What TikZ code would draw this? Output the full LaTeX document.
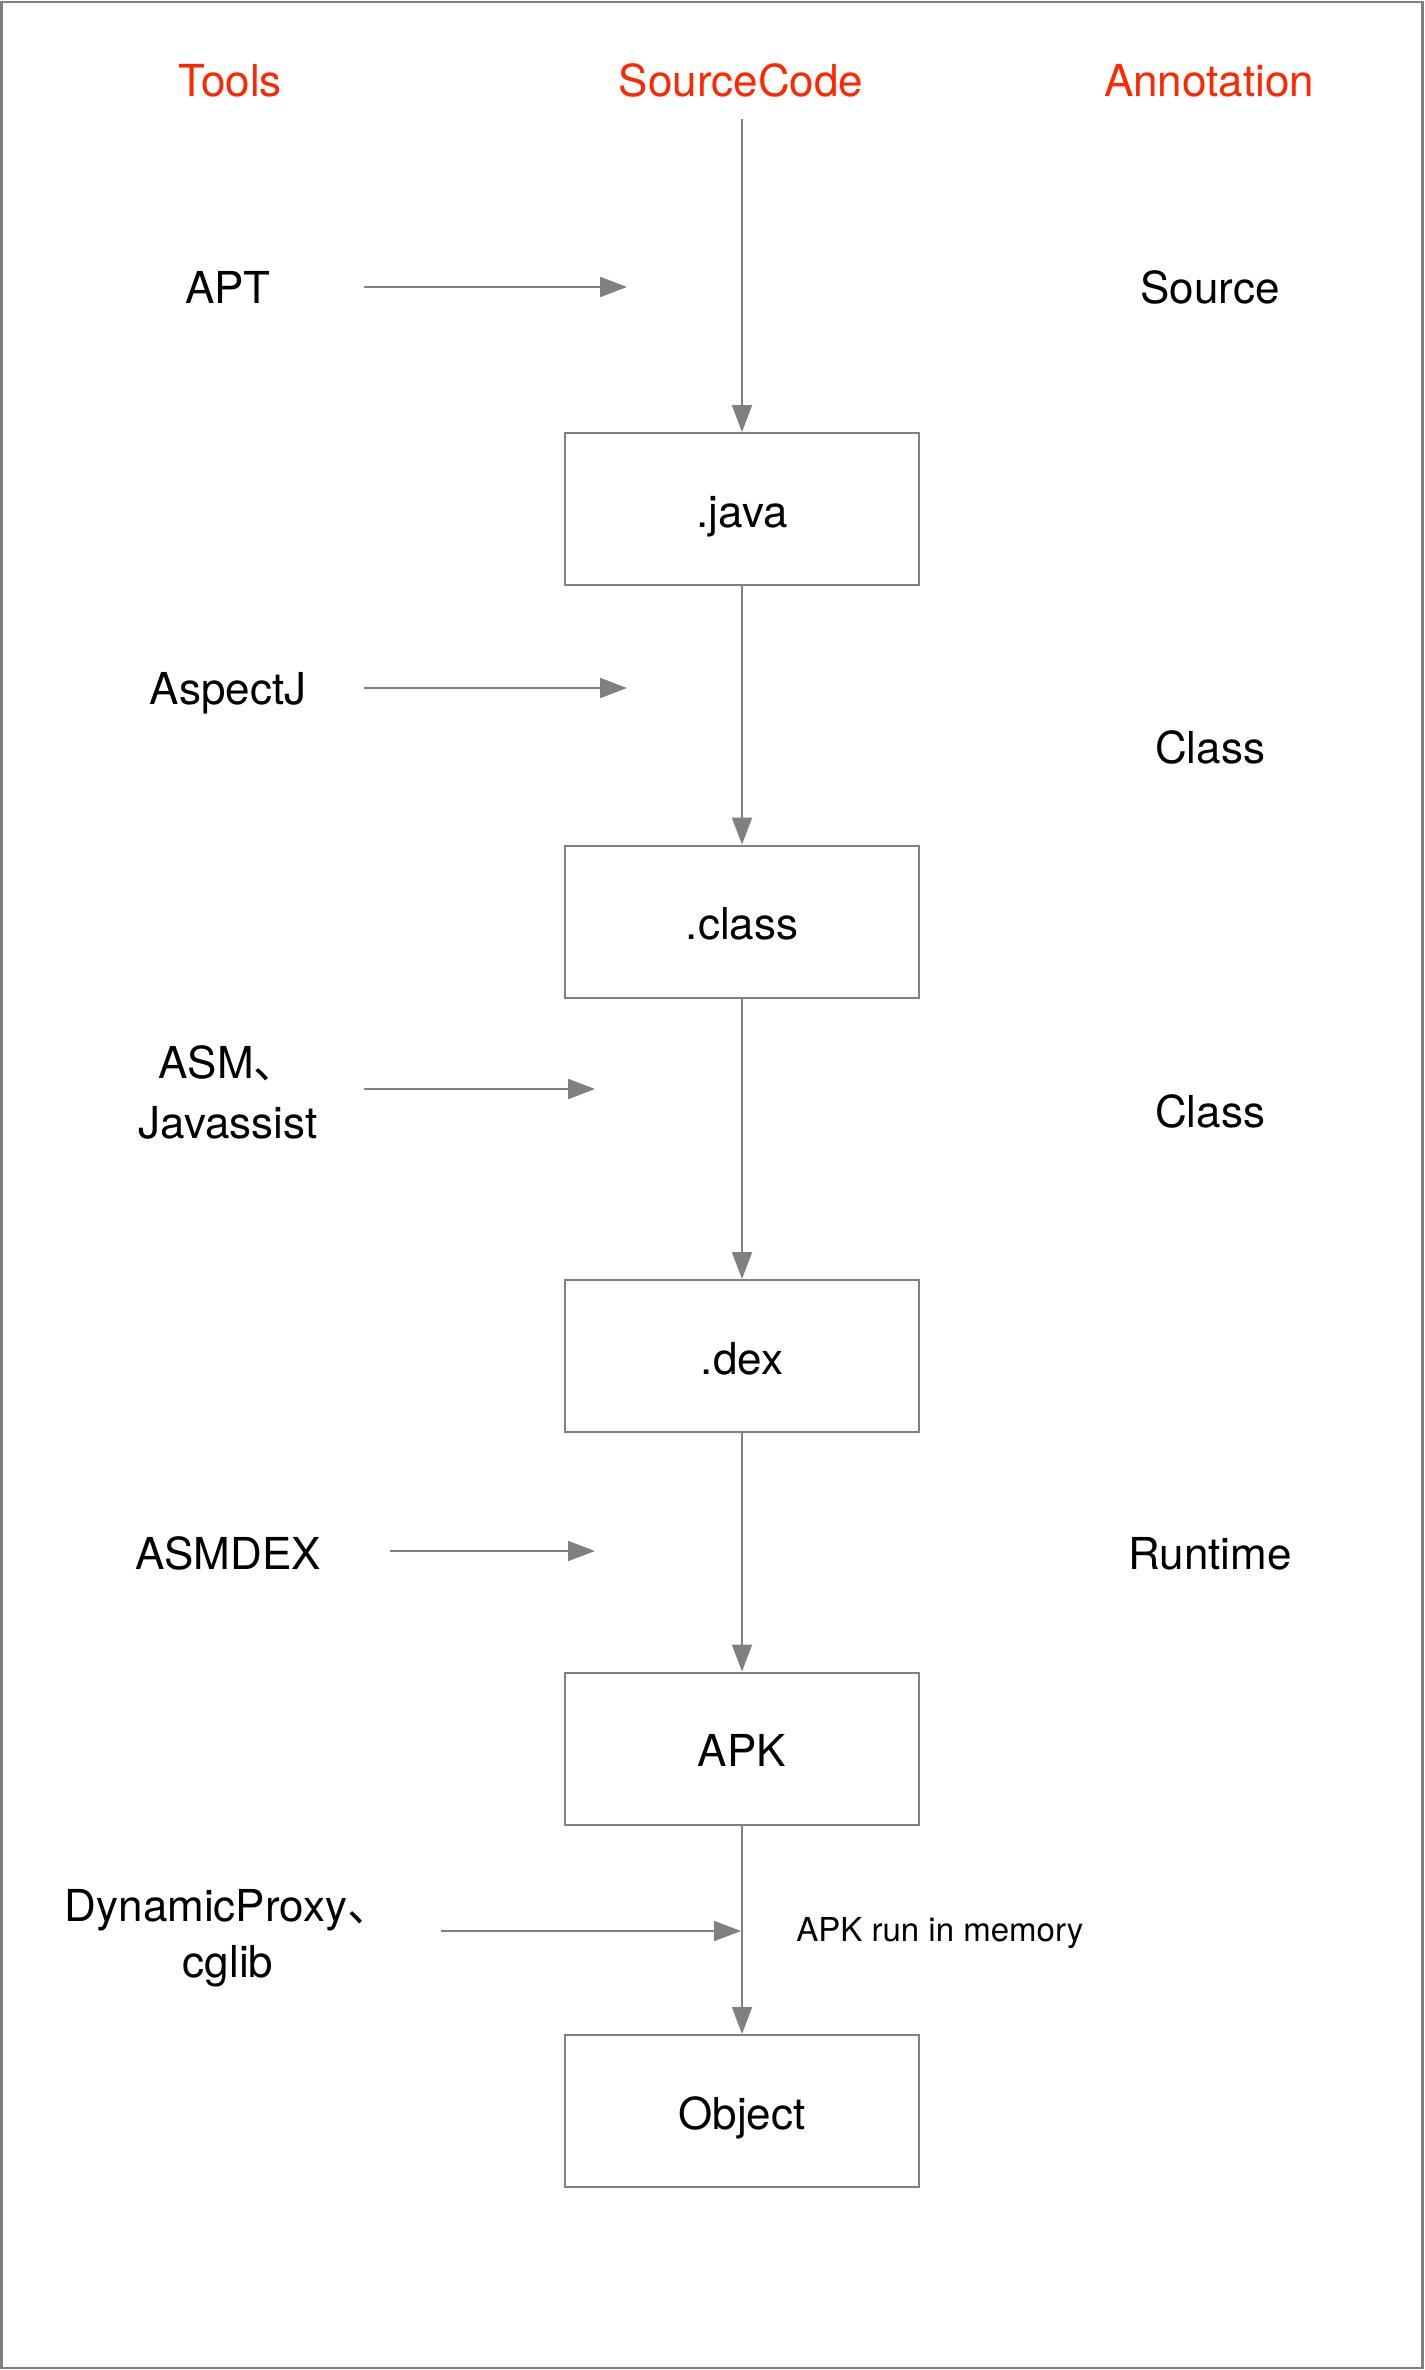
\documentclass[tikz,border=0pt]{standalone}
\usepackage{fontspec}
\setmainfont{TeX Gyre Heros}
\newfontfamily\cjk{Noto Sans CJK SC}
\usetikzlibrary{arrows.meta}
\definecolor{linegray}{RGB}{128,128,128}
\definecolor{headred}{RGB}{255,38,0}
\begin{document}
\begin{tikzpicture}[x=0.5pt,y=-0.5pt,
  lbl/.style={font=\fontsize{22}{26}\selectfont, inner sep=0pt, anchor=base},
  head/.style={lbl, text=headred},
  stage/.style={draw=linegray, line width=1pt, minimum width=177pt, minimum height=76pt,
    inner sep=0pt, font=\fontsize{22}{26}\selectfont, text height=18pt, text depth=0pt},
  flow/.style={draw=linegray, line width=1pt, -{Triangle[length=13.5pt,width=10pt]}},
  small/.style={font=\fontsize{16.5}{20}\selectfont, inner sep=0pt, anchor=base west}]
\useasboundingbox (0,0) rectangle (1424,2370);
\draw[linegray, line width=1.25pt] (1.5,2) rectangle (1422.5,2368);

% column headers
\node[head] (tools) at (230,97) {Tools};
\node[head] (src) at (741,97) {SourceCode};
\node[head] (annot) at (1209,97) {Annotation};

% stages
\node[stage] (java) at (742,509) {.java};
\node[stage] (class) at (742,921.5) {.class};
\node[stage] (dex) at (742,1356) {.dex};
\node[stage] (apk) at (742,1748.5) {APK};
\node[stage] (obj) at (742,2111) {Object};

% main flow
\coordinate (srcend) at (742,119);
\draw[flow] (srcend) -- (java);
\draw[flow] (java) -- (class);
\draw[flow] (class) -- (dex);
\draw[flow] (dex) -- (apk);
\draw[flow] (apk) -- (obj);

% tools
\node[lbl] (apt) at (228,304) {APT};
\node[lbl] (aspectj) at (228,704) {AspectJ};
\node[lbl] (asm) at (228,1078) {ASM{\cjk 、}};
\node[lbl] (javassist) at (228,1138) {Javassist};
\node[lbl] (asmdex) at (228,1569) {ASMDEX};
\node[lbl] (dynproxy) at (228,1921) {DynamicProxy{\cjk 、}};
\node[lbl] (cglib) at (228,1977) {cglib};

% annotations
\node[lbl] (source) at (1210,304) {Source};
\node[lbl] (class1) at (1210,763) {Class};
\node[lbl] (class2) at (1210,1127) {Class};
\node[lbl] (runtime) at (1210,1569) {Runtime};
\node[small] (memory) at (796,1941) {APK run in memory};

% tool arrows
\coordinate (aptA) at (364,287);   \coordinate (aptB) at (627,287);
\coordinate (ajA) at (364,688);    \coordinate (ajB) at (627,688);
\coordinate (asmA) at (364,1089);  \coordinate (asmB) at (595,1089);
\coordinate (dexA) at (390,1551);  \coordinate (dexB) at (595,1551);
\coordinate (dynA) at (441,1931);  \coordinate (dynB) at (741,1931);
\draw[flow] (aptA) -- (aptB);
\draw[flow] (ajA) -- (ajB);
\draw[flow] (asmA) -- (asmB);
\draw[flow] (dexA) -- (dexB);
\draw[flow] (dynA) -- (dynB);
\end{tikzpicture}
\end{document}
